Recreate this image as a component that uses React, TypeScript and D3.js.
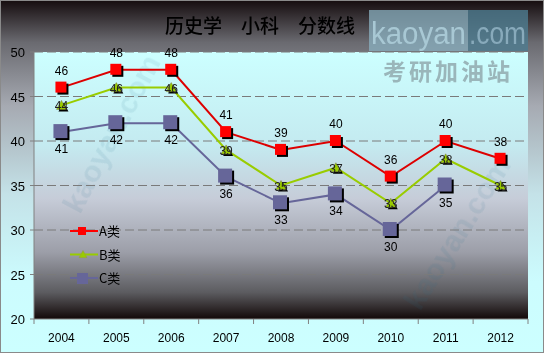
import React from "react";
import * as d3 from "d3";

const years = ["2004", "2005", "2006", "2007", "2008", "2009", "2010", "2011", "2012"];
const seriesA = [46, 48, 48, 41, 39, 40, 36, 40, 38];
const seriesB = [44, 46, 46, 39, 35, 37, 33, 38, 35];
const seriesC: (number | null)[] = [41, 42, 42, 36, 33, 34, 30, 35, null];
const yTicks = [20, 25, 30, 35, 40, 45, 50];
const seriesNames = ["A类", "B类", "C类"];
const title = "历史学　小科　分数线";

const W = 544, H = 353;
const L = 34, R = 528, T = 52, B = 319;

export default function App() {
  const x = d3.scaleBand<string>().domain(years).range([L, R]);
  const y = d3.scaleLinear().domain([20, 50]).range([B, T]);
  const cx = (i: number) => (x(years[i]) as number) + x.bandwidth() / 2;
  const line = d3
    .line<number | null>()
    .defined((d) => d != null)
    .x((_, i) => cx(i))
    .y((d) => y(d as number));

  const numFont = "Liberation Sans, Arial, sans-serif";
  const cjk = "Noto Sans CJK SC, sans-serif";

  const tri = (px: number, py: number, s: number) =>
    `M${px},${py - s}L${px + s},${py + s * 0.8}L${px - s},${py + s * 0.8}Z`;

  return (
    <svg width={W} height={H} style={{ position: "absolute", left: 0, top: 0 }}>
      <defs>
        <linearGradient id="outer" x1="0" y1="0" x2="0" y2="1">
          <stop offset="0" stopColor="#150c0e" />
          <stop offset="0.12" stopColor="#6a6a70" />
          <stop offset="0.3" stopColor="#a6aab2" />
          <stop offset="0.55" stopColor="#c4e2e8" />
          <stop offset="0.8" stopColor="#ccfcfe" />
          <stop offset="1" stopColor="#ccffff" />
        </linearGradient>
        <linearGradient id="plot" x1="0" y1="0" x2="0" y2="1">
          <stop offset="0" stopColor="#ccffff" />
          <stop offset="0.35" stopColor="#c4eaf0" />
          <stop offset="0.55" stopColor="#c6ccd8" />
          <stop offset="0.75" stopColor="#9c9ea8" />
          <stop offset="0.9" stopColor="#5c5c60" />
          <stop offset="1" stopColor="#120808" />
        </linearGradient>
      </defs>
      <rect x={0} y={0} width={W} height={H} fill="url(#outer)" />
      <rect x={0.5} y={0.5} width={W - 1} height={H - 1} fill="none" stroke="#8a8a8a" />
      <rect x={L} y={T} width={R - L} height={B - T} fill="url(#plot)" />

      {/* watermarks */}
      <g opacity={0.1} fill="#2a7090" fontFamily={numFont} fontWeight="bold">
        <text transform="translate(80,215) rotate(-62)" fontSize={30}>kaoyan.com</text>
        <text transform="translate(420,312) rotate(-58)" fontSize={30}>kaoyan.com</text>
      </g>

      {/* grid */}
      {yTicks.filter((t) => t > 20).map((t) => (
        <line key={t} x1={L} x2={R} y1={y(t)} y2={y(t)} stroke="#7a7a7a" strokeDasharray="9,4" />
      ))}

      {/* axes */}
      <line x1={L} x2={L} y1={T} y2={B} stroke="#808080" />
      <line x1={L} x2={R} y1={B} y2={B} stroke="#808080" />
      {yTicks.map((t) => (
        <g key={t}>
          <line x1={L - 4} x2={L} y1={y(t)} y2={y(t)} stroke="#808080" />
          <text x={25} y={y(t) + 5} textAnchor="end" fontSize={13} fontFamily={numFont} fill="#000">{t}</text>
        </g>
      ))}
      {years.map((yr, i) => (
        <g key={yr}>
          <line x1={(x(yr) as number) + x.bandwidth()} x2={(x(yr) as number) + x.bandwidth()} y1={B} y2={B + 5} stroke="#808080" />
          {i === 0 && <line x1={L} x2={L} y1={B} y2={B + 5} stroke="#808080" />}
          <text x={cx(i)} y={342} textAnchor="middle" fontSize={12} fontFamily={numFont} fill="#000">{yr}</text>
        </g>
      ))}

      {/* lines */}
      <path d={line(seriesC) as string} fill="none" stroke="#666699" strokeWidth={2} />
      <path d={line(seriesB) as string} fill="none" stroke="#99cc00" strokeWidth={2} />
      <path d={line(seriesA) as string} fill="none" stroke="#dd0000" strokeWidth={2} />

      {/* C markers */}
      {seriesC.map((v, i) =>
        v == null ? null : (
          <g key={"c" + i}>
            <rect x={cx(i) - 6} y={y(v) - 6} width={14} height={14} fill="#000" />
            <rect x={cx(i) - 8} y={y(v) - 8} width={14} height={14} fill="#666699" />
            <text x={cx(i)} y={y(v) + 21} textAnchor="middle" fontSize={12} fontFamily={numFont} fill="#000">{v}</text>
          </g>
        )
      )}
      {/* B markers */}
      {seriesB.map((v, i) => (
        <g key={"b" + i}>
          <path d={tri(cx(i) + 2, y(v) + 2, 5)} fill="#000" />
          <path d={tri(cx(i), y(v), 5)} fill="#99cc00" stroke="#777744" strokeWidth={0.5} />
          <text x={cx(i)} y={y(v) + 5} textAnchor="middle" fontSize={12} fontFamily={numFont} fill="#222">{v}</text>
        </g>
      ))}
      {/* A markers */}
      {seriesA.map((v, i) => (
        <g key={"a" + i}>
          <rect x={cx(i) - 4} y={y(v) - 4} width={11} height={11} fill="#000" />
          <rect x={cx(i) - 6} y={y(v) - 6} width={11} height={11} fill="#ff0000" />
          <text x={cx(i)} y={y(v) - 13} textAnchor="middle" fontSize={12} fontFamily={numFont} fill="#000">{v}</text>
        </g>
      ))}

      {/* legend */}
      {seriesNames.map((n, k) => {
        const ly = 231 + k * 23.5;
        const col = ["#ff0000", "#99cc00", "#666699"][k];
        return (
          <g key={n}>
            <line x1={70} x2={98} y1={ly} y2={ly} stroke={col} strokeWidth={2} />
            {k === 0 && <rect x={78} y={ly - 4} width={8} height={8} fill={col} />}
            {k === 1 && <path d={tri(83, ly, 4)} fill={col} stroke="#999944" strokeWidth={0.5} />}
            {k === 2 && <rect x={77} y={ly - 5} width={11} height={11} fill={col} />}
            <text x={99} y={ly + 5} fontSize={13} fontFamily={cjk} fill="#000">{n}</text>
          </g>
        );
      })}

      {/* title */}
      <text x={260} y={33} textAnchor="middle" fontSize={19} fontFamily={cjk} fontWeight={500} fill="#000">{title}</text>

      {/* logo */}
      <rect x={369} y={10} width={99} height={41} fill="#8ab0c0" opacity={0.75} />
      <rect x={468} y={10} width={60} height={41} fill="#4e7c90" opacity={0.8} />
      <text x={371} y={44} fontSize={31} fontFamily={numFont} fill="#a8c8d4" textLength={95} lengthAdjust="spacingAndGlyphs">kaoyan</text>
      <text x={469} y={44} fontSize={31} fontFamily={numFont} fill="#88aabb" textLength={57} lengthAdjust="spacingAndGlyphs">.com</text>
      <text x={448} y={80} textAnchor="middle" fontSize={23} fontFamily={cjk} fontWeight="bold" fill="#9ab6ba" letterSpacing={3}>考研加油站</text>
    </svg>
  );
}
